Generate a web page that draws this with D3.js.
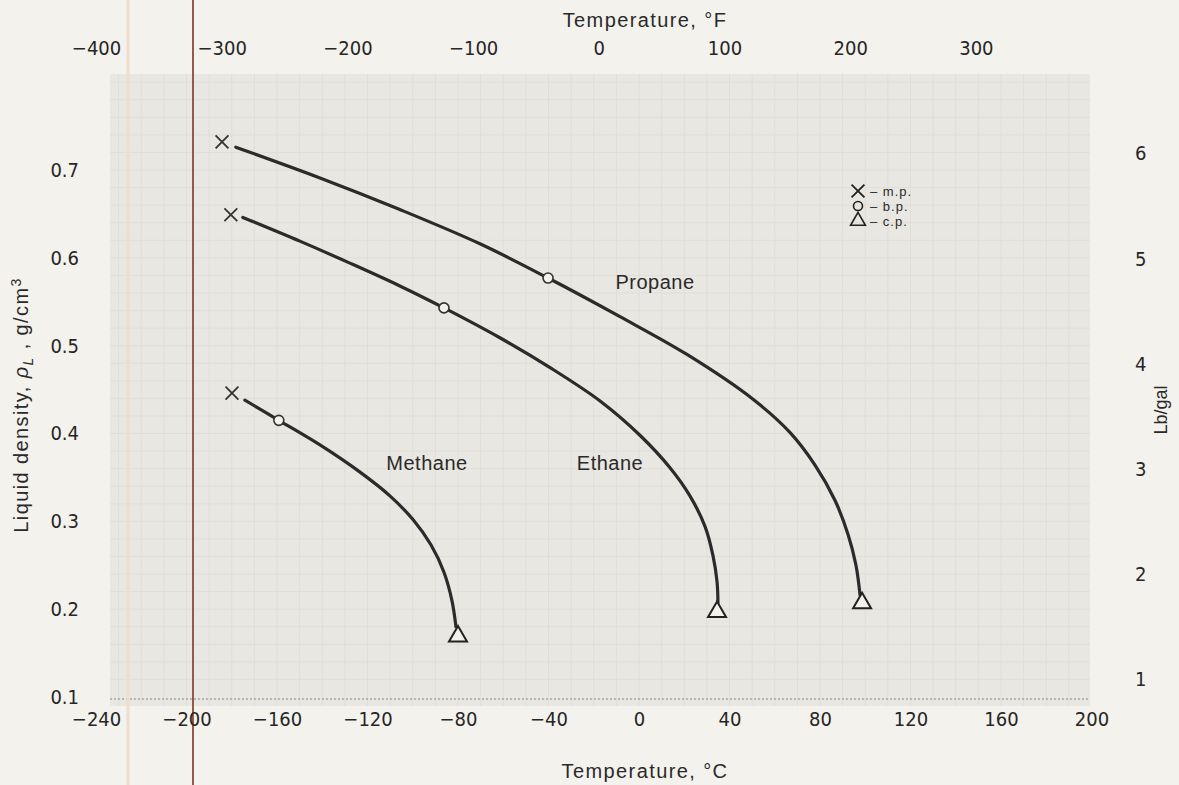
<!DOCTYPE html>
<html>
<head>
<meta charset="utf-8">
<script src="https://cdn.jsdelivr.net/npm/d3@7"></script>
<style>
  body { margin: 0; background: #f4f2ed; }
  svg { display: block; }
  .tick text { font-family: "Liberation Sans Narrow", "DejaVu Sans Condensed", "Roboto Condensed", sans-serif; fill: #262626; }
  .lbl { font-family: "Liberation Sans", Arial, sans-serif; fill: #2a2a2a; }
</style>
</head>
<body>
<script>

// Width and height
var w = 1179;
var h = 785;

// data: temperature in deg C, liquid density in g/cm3
var methaneT   = [-174.2, -159.2, -141.0, -123.3, -110.1, -99.9, -91.9, -86.2, -82.7, -80.9];
var methaneRho = [0.438, 0.415, 0.387, 0.356, 0.329, 0.302, 0.273, 0.242, 0.210, 0.180];
var ethaneT    = [-175.1, -149.9, -127.8, -105.7, -86.2, -61.5, -39.3, -17.2, 0.4, 13.7, 22.5, 29.2, 32.7, 34.5, 34.9];
var ethaneRho  = [0.646, 0.619, 0.594, 0.568, 0.543, 0.509, 0.475, 0.437, 0.398, 0.361, 0.329, 0.294, 0.261, 0.231, 0.207];
var propaneT   = [-178.2, -141.0, -105.7, -70.3, -40.2, -8.4, 21.2, 50.4, 66.8, 77.8, 86.6, 92.4, 95.9, 97.7];
var propaneRho = [0.726, 0.691, 0.655, 0.616, 0.577, 0.533, 0.490, 0.439, 0.401, 0.364, 0.324, 0.285, 0.250, 0.216];

// m.p. / b.p. / c.p. points: methane, ethane, propane
var mpT   = [-179.9, -180.4, -184.3];
var mpRho = [0.446, 0.649, 0.732];
var bpT   = [-159.2, -86.2, -40.2];
var bpRho = [0.415, 0.543, 0.577];
var cpT   = [-80.0, 34.5, 98.6];
var cpRho = [0.169, 0.197, 0.207];

var gasNames    = ["Methane", "Ethane", "Propane"];
var gasLabelT   = [-93.7, -12.8, 7.1];
var gasLabelRho = [0.358, 0.358, 0.564];

// tick values
var cTicks   = [-240, -200, -160, -120, -80, -40, 0, 40, 80, 120, 160, 200];
var fTicks   = [-400, -300, -200, -100, 0, 100, 200, 300];
var rhoTicks = [0.1, 0.2, 0.3, 0.4, 0.5, 0.6, 0.7];
var lbTicks  = [1, 2, 3, 4, 5, 6];

var legendSyms   = ["x", "o", "t"];
var legendLabels = ["– m.p.", "– b.p.", "– c.p."];

var LB_PER_GCC = 8.3454;

// scales
var xC = d3.scaleLinear().domain([-240, 200]).range([96, 1091.5]);
var xF = d3.scaleLinear()
  .domain(xC.domain().map(function (c) { return c * 9 / 5 + 32; }))
  .range(xC.range());
var y = d3.scaleLinear().domain([0.1, 0.7]).range([697, 170]);
var yLb = d3.scaleLinear()
  .domain(y.domain().map(function (r) { return r * LB_PER_GCC; }))
  .range(y.range());

var svg = d3.select("body").append("svg")
  .attr("width", w)
  .attr("height", h);

// plot paper
svg.append("rect")
  .attr("x", 110).attr("y", 74)
  .attr("width", 980).attr("height", 632)
  .attr("fill", "#e9e7e1");

// faint grid of the paper
var grid = svg.append("g").attr("stroke", "#e0ded8").attr("stroke-width", 1);
grid.selectAll("line.v")
  .data(d3.range(-230, 200, 10))
  .enter().append("line")
  .attr("x1", function (d) { return xC(d); })
  .attr("x2", function (d) { return xC(d); })
  .attr("y1", 74).attr("y2", 706);
grid.selectAll("line.h")
  .data(d3.range(0.12, 0.81, 0.02))
  .enter().append("line")
  .attr("x1", 110).attr("x2", 1090)
  .attr("y1", function (d) { return y(d); })
  .attr("y2", function (d) { return y(d); });

// dotted baseline at 0.1
svg.append("line")
  .attr("x1", 110).attr("x2", 1090)
  .attr("y1", y(0.1) + 2).attr("y2", y(0.1) + 2)
  .attr("stroke", "#a9a7a2")
  .attr("stroke-width", 1.5)
  .attr("stroke-dasharray", "2,2");

// scan marks
svg.append("line")
  .attr("x1", 128).attr("x2", 128).attr("y1", 0).attr("y2", h)
  .attr("stroke", "#efdcd2").attr("stroke-width", 3);
svg.append("line")
  .attr("x1", 193).attr("x2", 193).attr("y1", 0).attr("y2", h)
  .attr("stroke", "#8b4a3a").attr("stroke-width", 1.8);

// axes
function styleAxis(g, size) {
  g.select(".domain").remove();
  g.selectAll(".tick line").remove();
  g.selectAll(".tick text").style("font-size", size + "px");
}

svg.append("g")
  .attr("transform", "translate(0,712)")
  .call(d3.axisBottom(xC).tickValues(cTicks).tickSize(0).tickPadding(0))
  .call(styleAxis, 20);

svg.append("g")
  .attr("transform", "translate(0,55)")
  .call(d3.axisTop(xF).tickValues(fTicks).tickSize(0).tickPadding(0))
  .call(styleAxis, 20);

svg.append("g")
  .attr("transform", "translate(79,0)")
  .call(d3.axisLeft(y).tickValues(rhoTicks).tickSize(0).tickPadding(0)
    .tickFormat(d3.format(".1f")))
  .call(styleAxis, 20);

svg.append("g")
  .attr("transform", "translate(1135,0)")
  .call(d3.axisRight(yLb).tickValues(lbTicks).tickSize(0).tickPadding(0)
    .tickFormat(d3.format("d")))
  .call(styleAxis, 20);

// axis titles
svg.append("text").attr("class", "lbl")
  .attr("x", 645).attr("y", 27)
  .attr("text-anchor", "middle")
  .style("font-size", "20px")
  .style("letter-spacing", "1.4px")
  .text("Temperature, °F");

svg.append("text").attr("class", "lbl")
  .attr("x", 645).attr("y", 778)
  .attr("text-anchor", "middle")
  .style("font-size", "20px")
  .style("letter-spacing", "1.4px")
  .text("Temperature, °C");

var yt = svg.append("text").attr("class", "lbl")
  .attr("transform", "translate(28,405) rotate(-90)")
  .attr("text-anchor", "middle")
  .style("font-size", "20px")
  .style("letter-spacing", "1.4px");
yt.append("tspan").text("Liquid density, ");
yt.append("tspan").style("font-style", "italic").text("ρ");
yt.append("tspan").attr("dy", 5).style("font-size", "14px").style("font-style", "italic").text("L");
yt.append("tspan").attr("dy", -5).text(" , g/cm");
yt.append("tspan").attr("dy", -7).style("font-size", "14px").text("3");

svg.append("text").attr("class", "lbl")
  .attr("transform", "translate(1167,410) rotate(-90)")
  .attr("text-anchor", "middle")
  .style("font-size", "18px")
  .text("Lb/gal");

// curves
var line = d3.line()
  .x(function (d) { return xC(d[0]); })
  .y(function (d) { return y(d[1]); })
  .curve(d3.curveCatmullRom.alpha(0.5));

var curves = [
  d3.zip(methaneT, methaneRho),
  d3.zip(ethaneT, ethaneRho),
  d3.zip(propaneT, propaneRho)
];

svg.append("g").selectAll("path")
  .data(curves)
  .enter().append("path")
  .attr("d", line)
  .attr("fill", "none")
  .attr("stroke", "#2b2b2b")
  .attr("stroke-width", 3.2)
  .attr("stroke-linecap", "round");

// markers
var cross = d3.symbol().type(d3.symbolX).size(110);
var tri = d3.symbol().type(d3.symbolTriangle).size(140);

svg.append("g").selectAll("path")
  .data(d3.zip(mpT, mpRho))
  .enter().append("path")
  .attr("transform", function (d) { return "translate(" + xC(d[0]) + "," + y(d[1]) + ")"; })
  .attr("d", cross)
  .attr("fill", "none")
  .attr("stroke", "#333")
  .attr("stroke-width", 1.8);

svg.append("g").selectAll("circle")
  .data(d3.zip(bpT, bpRho))
  .enter().append("circle")
  .attr("cx", function (d) { return xC(d[0]); })
  .attr("cy", function (d) { return y(d[1]); })
  .attr("r", 5)
  .attr("fill", "#f4f2ed")
  .attr("stroke", "#333")
  .attr("stroke-width", 1.6);

svg.append("g").selectAll("path")
  .data(d3.zip(cpT, cpRho))
  .enter().append("path")
  .attr("transform", function (d) { return "translate(" + xC(d[0]) + "," + y(d[1]) + ")"; })
  .attr("d", tri)
  .attr("fill", "#f4f2ed")
  .attr("stroke", "#222")
  .attr("stroke-width", 2);

// gas labels
svg.append("g").selectAll("text")
  .data(gasNames)
  .enter().append("text")
  .attr("class", "lbl")
  .attr("x", function (d, i) { return xC(gasLabelT[i]); })
  .attr("y", function (d, i) { return y(gasLabelRho[i]); })
  .attr("text-anchor", "middle")
  .style("font-size", "20px")
  .style("letter-spacing", "0.5px")
  .text(function (d) { return d; });

// legend
var leg = svg.append("g").attr("transform", "translate(858,191)");
legendSyms.forEach(function (s, i) {
  var g = leg.append("g").attr("transform", "translate(0," + (i * 15) + ")");
  if (s === "x") {
    g.append("path").attr("d", d3.symbol().type(d3.symbolX).size(110))
      .attr("fill", "none").attr("stroke", "#222").attr("stroke-width", 1.8);
  } else if (s === "o") {
    g.append("circle").attr("r", 4.5)
      .attr("fill", "none").attr("stroke", "#222").attr("stroke-width", 1.6);
  } else {
    g.append("path").attr("d", d3.symbol().type(d3.symbolTriangle).size(95))
      .attr("fill", "none").attr("stroke", "#222").attr("stroke-width", 1.6);
  }
  g.append("text").attr("class", "lbl")
    .attr("x", 12).attr("y", 4.5)
    .style("font-size", "13px")
    .style("letter-spacing", "1px")
    .text(legendLabels[i]);
});

</script>
</body>
</html>
